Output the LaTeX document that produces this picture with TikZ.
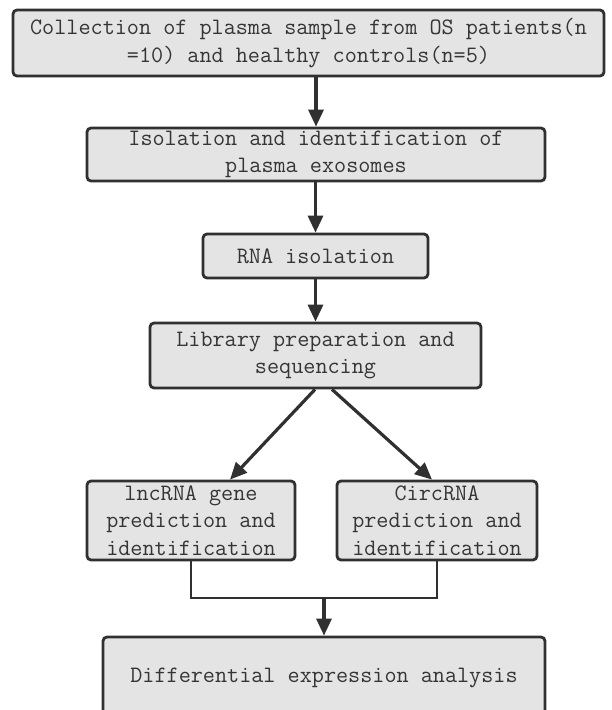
\documentclass[tikz,border=0pt]{standalone}
\usetikzlibrary{arrows.meta}
\definecolor{boxfill}{HTML}{E4E4E4}
\definecolor{boxline}{HTML}{303030}
\definecolor{txt}{HTML}{353535}
\begin{document}
\begin{tikzpicture}[x=1pt,y=-1pt,
  stepbox/.style={draw=boxline,fill=boxfill,line width=2.8pt,rounded corners=4pt,
    inner sep=0pt,align=center,text=txt,
    font=\ttfamily\fontsize{23.5}{27.5}\selectfont},
  arr/.style={draw=boxline,line width=3.2pt,-{Triangle[length=17pt,width=15pt]}},
  ln/.style={draw=boxline,line width=2.8pt}]
\path[use as bounding box] (0,0) rectangle (611,710);
\clip (0,0) rectangle (611,710);
\node[stepbox,minimum width=591pt,minimum height=66pt] (b1) at (308.5,43)
  {Collection of plasma sample from OS patients(n\\=10) and healthy controls(n=5)};
\node[stepbox,minimum width=458pt,minimum height=53pt] (b2) at (316,154.5)
  {Isolation and identification of\\plasma exosomes};
\node[stepbox,minimum width=225pt,minimum height=44pt] (b3) at (315.5,256)
  {RNA isolation};
\node[stepbox,minimum width=331pt,minimum height=65pt] (b4) at (315.5,355.5)
  {Library preparation and\\sequencing};
\node[stepbox,minimum width=208pt,minimum height=79pt] (b5) at (191,520.5)
  {lncRNA gene\\prediction and\\identification};
\node[stepbox,minimum width=200pt,minimum height=79pt] (b6) at (437,520.5)
  {CircRNA\\prediction and\\identification};
\node[stepbox,minimum width=442pt,minimum height=81pt] (b7) at (324,677.5)
  {Differential expression analysis};
\coordinate (m) at (324,598);
\draw[arr] (b1.south -| b2.north) -- (b2.north);
\draw[arr] (b2.south -| b3.north) -- (b3.north);
\draw[arr] (b3.south) -- (b4.north);
\draw[arr] ([xshift=-0.5pt]b4.south) -- ([xshift=39pt]b5.north);
\draw[arr] ([xshift=16.5pt]b4.south) -- ([xshift=-5pt]b6.north);
\draw[ln] (b5.south) |- (m) -| (b6.south);
\draw[arr] (m) -- (b7.north);
\end{tikzpicture}
\end{document}
